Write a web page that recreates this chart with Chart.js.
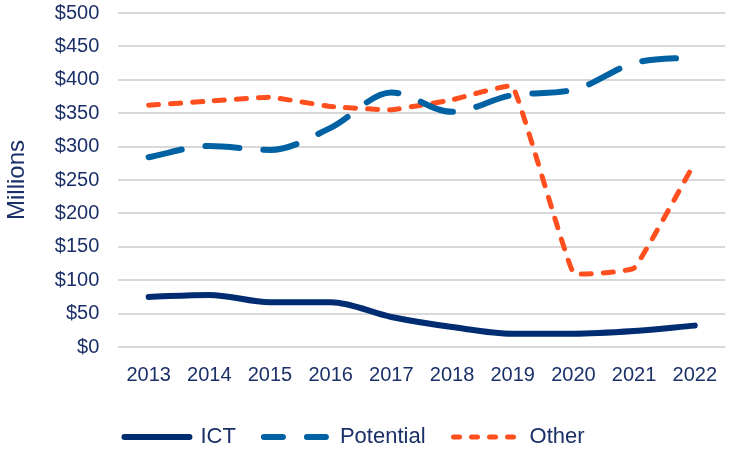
<!DOCTYPE html>
<html>
<head>
<meta charset="utf-8">
<script src="https://cdn.jsdelivr.net/npm/chart.js@4/dist/chart.umd.min.js"></script>
<style>
  body { margin: 0; background: #fff; }
  #wrap { width: 733px; height: 452px; position: relative; }
</style>
</head>
<body>
<div id="wrap"><canvas id="chart"></canvas></div>
<script>
const years = ['2013', '2014', '2015', '2016', '2017', '2018', '2019', '2020', '2021', '2022'];
const ict = [75, 78, 67, 67, 45, 30, 20, 20, 24, 32];
const potential = [284, 301, 295, 328, 381, 352, 377, 385, 425, 434];
const other = [362, 368, 374, 360, 355, 370, 390, 111, 118, 276];

const textColor = '#1b3068';
const fontFamily = '"Liberation Sans", Arial, sans-serif';
const ctx = document.getElementById('chart');

// legend keeps wide horizontal gaps, but takes less room vertically,
// and sits a little left of centre like the original
const legendTrim = {
  id: 'legendTrim',
  beforeInit(chart) {
    const fit = chart.legend.fit;
    chart.legend.fit = function () {
      fit.bind(chart.legend)();
      this.height = 54;
    };
  },
  afterLayout(chart) {
    chart.legend.left -= 12;
    chart.legend.right -= 12;
  }
};

const defaultLabels = Chart.defaults.plugins.legend.labels.generateLabels;

new Chart(ctx, {
  type: 'line',
  data: {
    labels: years,
    datasets: [{
      label: 'ICT',
      data: ict,
      borderColor: '#002d72',
      backgroundColor: '#002d72',
      borderWidth: 6,
      borderCapStyle: 'round',
      pointRadius: 0,
      cubicInterpolationMode: 'monotone',
      legendDash: [],
    }, {
      label: 'Potential',
      data: potential,
      borderColor: '#0062a3',
      backgroundColor: '#0062a3',
      borderWidth: 6,
      borderDash: [34, 24],
      borderCapStyle: 'round',
      pointRadius: 0,
      cubicInterpolationMode: 'monotone',
      legendDash: [19, 24],
    }, {
      label: 'Other',
      data: other,
      borderColor: '#ff4f1f',
      backgroundColor: '#ff4f1f',
      borderWidth: 5,
      borderDash: [10, 12],
      borderCapStyle: 'round',
      pointRadius: 0,
      tension: 0.08,
      legendDash: [6, 12],
    }]
  },
  options: {
    responsive: true,
    maintainAspectRatio: false,
    animation: false,
    layout: {
      padding: 0
    },
    plugins: {
      tooltip: { enabled: false },
      legend: {
        position: 'bottom',
        labels: {
          usePointStyle: true,
          pointStyle: 'line',
          pointStyleWidth: 65,
          color: textColor,
          padding: 28,
          font: { family: fontFamily, size: 22 },
          // point style legend drops the dash, put it back per dataset
          generateLabels: (chart) => defaultLabels(chart).map((item) => {
            const ds = chart.data.datasets[item.datasetIndex];
            item.lineDash = ds.legendDash || [];
            item.lineCap = 'round';
            item.lineWidth = ds.borderWidth;
            return item;
          }),
        },
      },
    },
    scales: {
      x: {
        offset: true,
        grid: { display: false, drawTicks: false },
        border: { display: false },
        afterFit: (scale) => { scale.height = 51; },
        ticks: {
          color: textColor,
          padding: 16,
          maxRotation: 0,
          font: { family: fontFamily, size: 20 },
        },
      },
      y: {
        min: 0,
        max: 500,
        grid: {
          color: '#d9d9d9',
          lineWidth: 2,
          drawTicks: false,
        },
        border: { display: false },
        // tick padding is also added above the top label; keep the plot near the top
        afterFit: (scale) => { scale.paddingTop = 13; },
        ticks: {
          stepSize: 50,
          color: textColor,
          padding: 19,
          font: { family: fontFamily, size: 20 },
          callback: (v) => '$' + v,
        },
        title: {
          display: true,
          text: 'Millions',
          color: textColor,
          padding: { top: 3, bottom: 4 },
          font: { family: fontFamily, size: 24 },
        },
      },
    },
  },
  plugins: [legendTrim],
});
</script>
</body>
</html>
